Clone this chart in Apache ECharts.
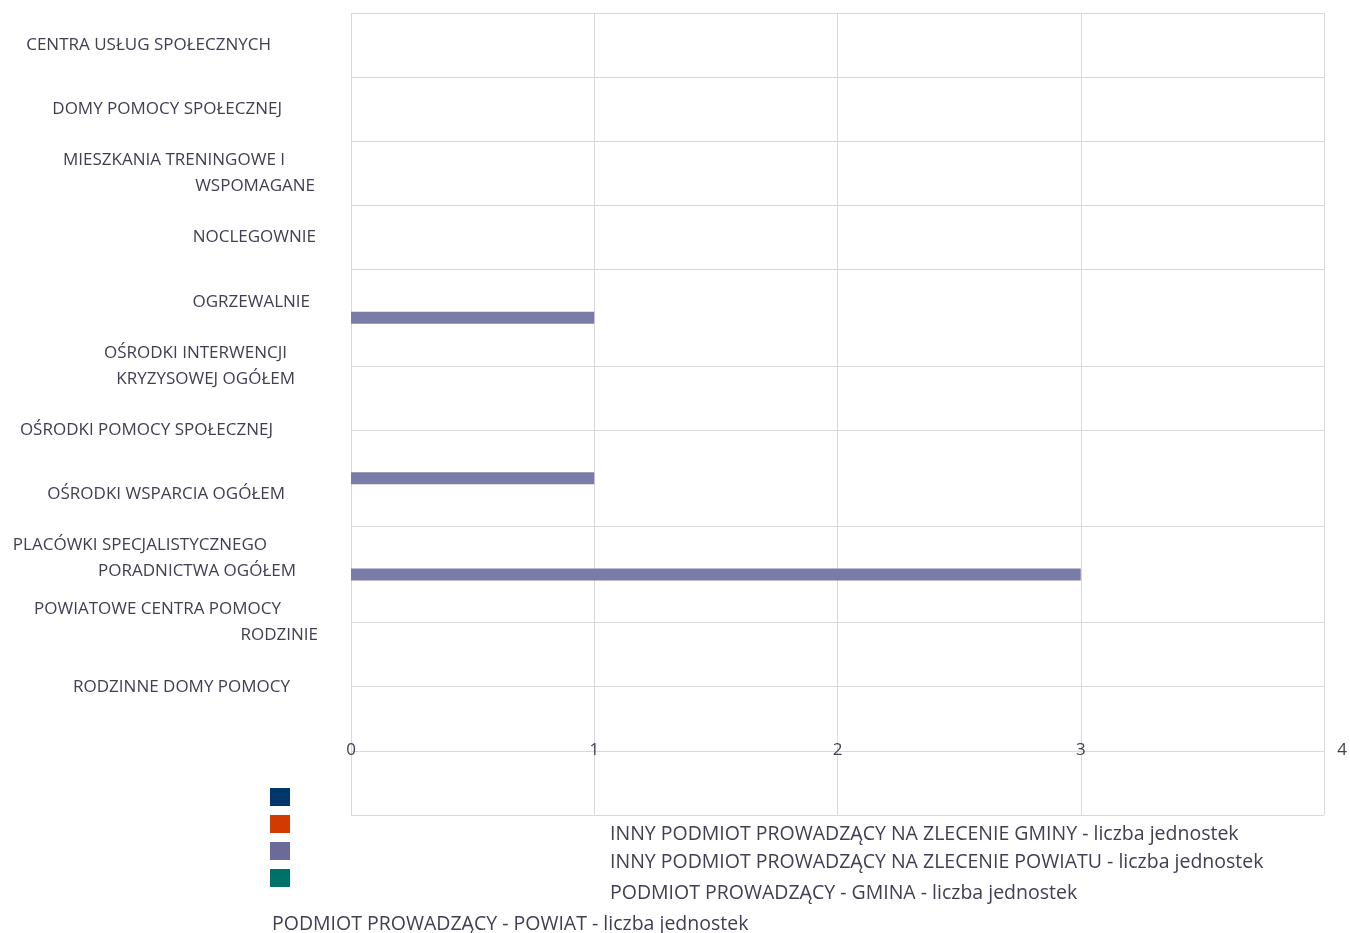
<!DOCTYPE html>
<html>
<head>
<meta charset="utf-8">
<script src="https://cdn.jsdelivr.net/npm/echarts@6/dist/echarts.min.js"></script>
<style>
  html, body { margin: 0; padding: 0; background: #ffffff; }
  #chart { width: 1350px; height: 933px; }
</style>
</head>
<body>
<div id="chart"></div>
<script>
// ---------- data ----------
const categories = [
  'CENTRA USŁUG SPOŁECZNYCH',
  'DOMY POMOCY SPOŁECZNEJ',
  'MIESZKANIA TRENINGOWE I\nWSPOMAGANE',
  'NOCLEGOWNIE',
  'OGRZEWALNIE',
  'OŚRODKI INTERWENCJI\nKRYZYSOWEJ OGÓŁEM',
  'OŚRODKI POMOCY SPOŁECZNEJ',
  'OŚRODKI WSPARCIA OGÓŁEM',
  'PLACÓWKI SPECJALISTYCZNEGO\nPORADNICTWA OGÓŁEM',
  'POWIATOWE CENTRA POMOCY\nRODZINIE',
  'RODZINNE DOMY POMOCY'
];
const seriesNames = [
  'INNY PODMIOT PROWADZĄCY NA ZLECENIE GMINY - liczba jednostek',
  'INNY PODMIOT PROWADZĄCY NA ZLECENIE POWIATU - liczba jednostek',
  'PODMIOT PROWADZĄCY - GMINA - liczba jednostek',
  'PODMIOT PROWADZĄCY - POWIAT - liczba jednostek'
];
const innyGminyValues   = [0, 0, 0, 0, 0, 0, 0, 0, 0, 0, 0];
const innyPowiatuValues = [0, 0, 0, 0, 0, 0, 0, 0, 0, 0, 0];
const gminaValues       = [0, 0, 0, 0, 1, 0, 1, 3, 0, 0, 0];
const powiatValues      = [0, 0, 0, 0, 0, 0, 0, 0, 0, 0, 0];
const xMin = 0, xMax = 4, xStep = 1;

// ---------- layout / style (not data) ----------
const cellUnits = [2, 2, 2, 2, 3, 2, 3, 3, 2, 2, 2];           // uneven band heights as drawn
const labelRightPad = [[47], [36], [33, 3], [2], [8], [31, 23], [45], [33], [51, 22], [37, 0], [28]];
const legendTextPos = [[610, 822], [610, 850], [610, 881], [272, 912]];
const barColors = ['#00386b', '#d13b01', '#7b7ba8', '#00706b'];
const swatchColors = ['#00386b', '#d13b01', '#6b6b9b', '#00706b'];
const textColor = '#404052';
const gridColor = '#d9d9d9';
const FONT = 'Open Sans';
const FS = 17;
const LEGEND_FONT = 'Open Sans';
const LEGEND_FS = 19.5;

// half-unit slots on a non-gap category axis
const totalHalf = cellUnits.reduce((a, b) => a + b, 0) * 2;
const slots = Array.from({ length: totalHalf + 1 }, (_, k) => 's' + k);
const cellStart = [];
let acc = 0;
cellUnits.forEach(u => { cellStart.push(acc); acc += u * 2; });
const boundarySet = new Set([...cellStart, totalHalf]);
const cellCenter = cellStart.map((s, i) => s + cellUnits[i]);
const labelSlotToCat = new Map(categories.map((c, i) => [4 * i + 2, i]));

function toSlots(values) {
  const arr = slots.map(() => '-');
  values.forEach((v, i) => { arr[cellCenter[i]] = v; });
  return arr;
}

const rich = {};
labelRightPad.flat().forEach(p => {
  rich['p' + p] = { padding: [0, p, 0, 0], fontSize: FS, lineHeight: 26, color: textColor, fontFamily: FONT };
});

const allValues = [innyGminyValues, innyPowiatuValues, gminaValues, powiatValues];

const chart = echarts.init(document.getElementById('chart'), null, { renderer: 'canvas' });
const option = {
  animation: false,
  backgroundColor: '#ffffff',
  grid: { left: 351, top: 13, width: 973, height: 802, containLabel: false, outerBoundsMode: 'none' },
  xAxis: {
    type: 'value', min: xMin, max: xMax, interval: xStep,
    axisLine: { show: false }, axisTick: { show: false },
    splitLine: { show: true, lineStyle: { color: gridColor, width: 1 } },
    axisLabel: {
      margin: -65, verticalAlign: 'middle', color: textColor, fontFamily: FONT, fontSize: FS,
      formatter: v => (v === xMax ? '{last|' + v + '}' : String(v)),
      rich: { last: { padding: [0, 0, 0, 36], color: textColor, fontFamily: FONT, fontSize: FS } }
    }
  },
  yAxis: {
    type: 'category', data: slots, inverse: true, boundaryGap: false,
    axisLine: { show: false }, axisTick: { show: false },
    splitLine: { show: true, interval: (idx) => boundarySet.has(idx), lineStyle: { color: gridColor, width: 1 } },
    axisLabel: {
      margin: 33, align: 'right', color: textColor, fontFamily: FONT, fontSize: FS, lineHeight: 26,
      interval: (idx) => labelSlotToCat.has(idx),
      formatter: (value, idx) => {
        const ci = labelSlotToCat.get(idx);
        if (ci === undefined) return '';
        const lines = categories[ci].split('\n');
        return lines.map((ln, j) => '{p' + labelRightPad[ci][j] + '|' + ln + '}').join('\n');
      },
      rich: rich
    }
  },
  legend: [
    {
      orient: 'vertical', left: 270, top: 788, padding: 0, itemWidth: 20, itemHeight: 18, itemGap: 9,
      selectedMode: false, icon: 'rect',
      data: seriesNames.map((n, i) => ({ name: n, itemStyle: { color: swatchColors[i] } })),
      formatter: () => '', textStyle: { fontSize: 1, lineHeight: 1 }
    },
    ...legendTextPos.map((pos, i) => ({
      orient: 'vertical', left: pos[0] - 5, top: pos[1] + 2, padding: 0, itemWidth: 0, itemHeight: 20,
      selectedMode: false, icon: 'rect', data: [seriesNames[i]],
      textStyle: { color: textColor, fontFamily: LEGEND_FONT, fontSize: LEGEND_FS, lineHeight: 20 }
    }))
  ],
  series: seriesNames.map((n, i) => ({
    name: n, type: 'bar', barWidth: 12, barGap: '-100%',
    itemStyle: { color: barColors[i] },
    data: toSlots(allValues[i])
  }))
};
chart.setOption(option);
</script>
</body>
</html>
